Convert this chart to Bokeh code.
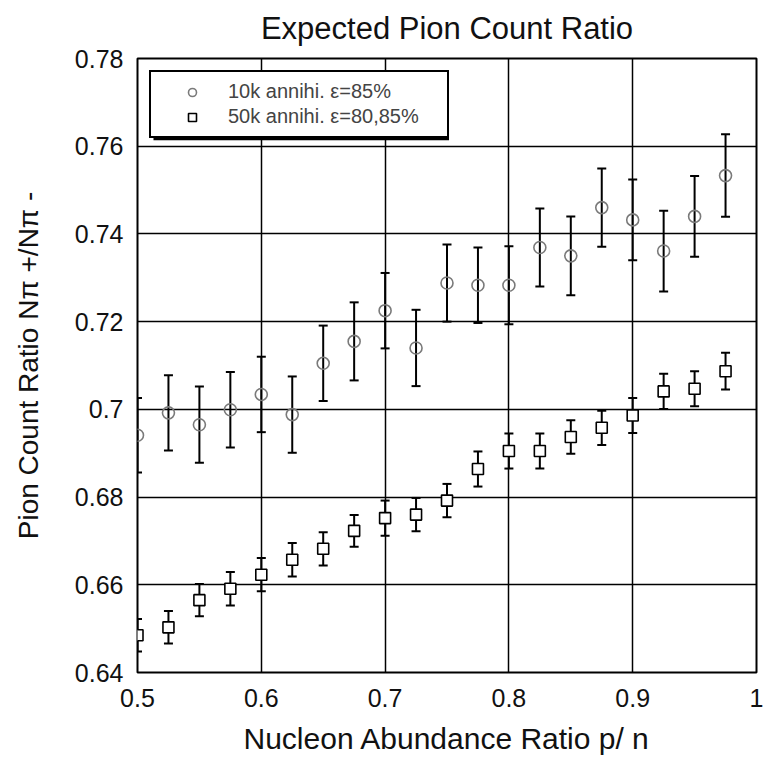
import numpy as np
from bokeh.plotting import figure
from bokeh.models import (ColumnDataSource, FixedTicker, Legend, LegendItem,
                          BoxAnnotation)
from bokeh.embed import file_html
from bokeh.resources import INLINE

# ---------------- data ----------------
x_vals = [0.5, 0.525, 0.55, 0.575, 0.6, 0.625, 0.65, 0.675, 0.7, 0.725,
          0.75, 0.775, 0.8, 0.825, 0.85, 0.875, 0.9, 0.925, 0.95, 0.975]

ratio_10k = [0.6941, 0.6992, 0.6965, 0.6999, 0.7034, 0.6988, 0.7105, 0.7155,
             0.7225, 0.7140, 0.7288, 0.7283, 0.7283, 0.7369, 0.7350, 0.7460,
             0.7432, 0.7361, 0.7440, 0.7533]
err_10k = [0.0085, 0.0086, 0.0087, 0.0086, 0.0086, 0.0087, 0.0086, 0.0089,
           0.0086, 0.0087, 0.0088, 0.0086, 0.0089, 0.0089, 0.0090, 0.0089,
           0.0092, 0.0092, 0.0092, 0.0094]

ratio_50k = [0.6485, 0.6503, 0.6565, 0.6591, 0.6623, 0.6657, 0.6682, 0.6723,
             0.6752, 0.6760, 0.6792, 0.6864, 0.6905, 0.6905, 0.6937, 0.6958,
             0.6986, 0.7041, 0.7047, 0.7087]
err_50k = [0.0037, 0.0037, 0.0037, 0.0038, 0.0038, 0.0038, 0.0038, 0.0036,
           0.0040, 0.0038, 0.0038, 0.0040, 0.0040, 0.0040, 0.0038, 0.0039,
           0.0040, 0.0040, 0.0040, 0.0042]

x_ticks = [0.5, 0.6, 0.7, 0.8, 0.9, 1.0]
x_tick_labels = ["0.5", "0.6", "0.7", "0.8", "0.9", "1"]
y_ticks = [0.64, 0.66, 0.68, 0.70, 0.72, 0.74, 0.76, 0.78]
y_tick_labels = ["0.64", "0.66", "0.68", "0.7", "0.72", "0.74", "0.76", "0.78"]

series_labels = ["10k annihi. \u03b5=85%", "50k annihi. \u03b5=80,85%"]

title_text = "Expected Pion Count Ratio"
x_title = "Nucleon Abundance Ratio p/ n"
y_title = "Pion Count Ratio N\u03c0 +/N\u03c0 -"

FONT = "Liberation Sans"

# ---------------- figure ----------------
p = figure(width=763, height=757, x_range=(0.5, 1.0), y_range=(0.64, 0.78),
           output_backend="svg", toolbar_location=None,
           min_border_left=137, min_border_right=7,
           min_border_top=57, min_border_bottom=84)

p.background_fill_color = "white"
p.border_fill_color = "white"
p.outline_line_color = "black"
p.outline_line_width = 2

p.title.text = title_text
p.title.align = "center"
p.title.vertical_align = "top"
p.title.text_font = FONT
p.title.text_font_size = "31px"
p.title.text_font_style = "normal"
p.title.text_color = "#111111"
p.title.standoff = 21

p.xaxis.ticker = FixedTicker(ticks=x_ticks)
p.yaxis.ticker = FixedTicker(ticks=y_ticks)
p.xaxis.major_label_overrides = {t: l for t, l in zip(x_ticks, x_tick_labels)}
p.yaxis.major_label_overrides = {t: l for t, l in zip(y_ticks, y_tick_labels)}

for ax in (p.xaxis, p.yaxis):
    ax.axis_line_color = None
    ax.major_tick_in = 0
    ax.major_tick_out = 0
    ax.minor_tick_line_color = None
    ax.major_label_text_font = FONT
    ax.major_label_text_font_size = "25px"
    ax.major_label_text_color = "#111111"
    ax.axis_label_text_font = FONT
    ax.axis_label_text_font_style = "normal"
    ax.axis_label_text_color = "#111111"

p.xaxis.axis_label = x_title
p.yaxis.axis_label = y_title
p.xaxis.axis_label_text_font_size = "30px"
p.yaxis.axis_label_text_font_size = "28px"
p.xaxis.major_label_standoff = 16
p.xaxis.axis_label_standoff = 12
p.yaxis.major_label_standoff = 14
p.yaxis.axis_label_standoff = 28

p.xgrid.ticker = FixedTicker(ticks=x_ticks)
p.ygrid.ticker = FixedTicker(ticks=y_ticks)
for g in (p.xgrid, p.ygrid):
    g.grid_line_color = "black"
    g.grid_line_width = 1.5

# ---------------- data sources ----------------
src_a = ColumnDataSource(dict(
    x=x_vals, y=ratio_10k,
    lo=[v - e for v, e in zip(ratio_10k, err_10k)],
    hi=[v + e for v, e in zip(ratio_10k, err_10k)]))
src_b = ColumnDataSource(dict(
    x=x_vals, y=ratio_50k,
    lo=[v - e for v, e in zip(ratio_50k, err_50k)],
    hi=[v + e for v, e in zip(ratio_50k, err_50k)]))

for src in (src_a, src_b):
    p.segment(x0="x", y0="lo", x1="x", y1="hi", source=src,
              line_color="black", line_width=2)
    p.scatter(x="x", y="hi", source=src, marker="dash", size=9,
              line_color="black", line_width=2)
    p.scatter(x="x", y="lo", source=src, marker="dash", size=9,
              line_color="black", line_width=2)

r_circ = p.scatter(x="x", y="y", source=src_a, marker="circle", size=12,
                   fill_alpha=0, line_color="#7a7a7a", line_width=1.6)
r_sq = p.scatter(x="x", y="y", source=src_b, marker="square", size=11,
                 fill_color="white", line_color="black", line_width=1.6)

# ---------------- legend with drop shadow ----------------
sx = 0.5 / 620.0   # data per pixel (x)
sy = 0.14 / 616.0  # data per pixel (y)
shadow = BoxAnnotation(left=0.5 + (153 - 137) * sx, right=0.5 + (449 - 137) * sx,
                       top=0.78 - (74 - 57) * sy, bottom=0.78 - (139 - 57) * sy,
                       fill_color="black", fill_alpha=1.0, line_color=None)
p.add_layout(shadow)

legend = Legend(items=[LegendItem(label=series_labels[0], renderers=[r_circ]),
                       LegendItem(label=series_labels[1], renderers=[r_sq])],
                location="top_left", margin=12, padding=8,
                glyph_width=66, glyph_height=20, label_standoff=3,
                label_width=211, label_height=20, spacing=2,
                label_text_font=FONT, label_text_font_size="20px",
                label_text_color="#444444",
                border_line_color="black", border_line_width=2,
                border_line_alpha=1.0,
                background_fill_color="white", background_fill_alpha=1.0)
p.add_layout(legend)

open("out.html", "w").write(file_html(p, INLINE))
